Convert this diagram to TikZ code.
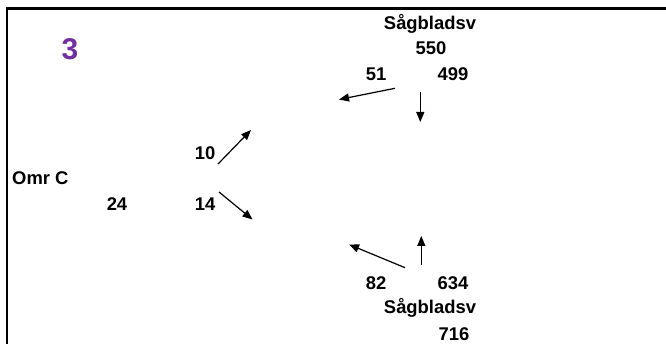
\documentclass[tikz,border=0pt]{standalone}
\usepackage{fontspec}
\setmainfont{Liberation Sans}
\usetikzlibrary{arrows.meta}
\definecolor{numpurple}{RGB}{112,48,160}
\begin{document}
\begin{tikzpicture}[x=1pt,y=-1pt,
  lbl/.style={font=\fontsize{18.4}{22}\selectfont\bfseries, inner sep=0pt, anchor=base},
  flow/.style={line width=1.2pt, -{Triangle[length=10pt,width=8pt]}},
  frame/.style={line width=2.6pt}]
\useasboundingbox (0,0) rectangle (666,344);
\draw[frame] (7,344) -- (7,8.5) -- (667,8.5);
\node[lbl, font=\fontsize{30}{34}\selectfont\bfseries, text=numpurple] (num) at (70,59.5) {3};
\node[lbl] (sagtop) at (430,29.3) {Sågbladsv};
\node[lbl] (n550) at (431,55) {550};
\node[lbl] (n51) at (376,81) {51};
\node[lbl] (n499) at (453,81) {499};
\node[lbl] (n10) at (205,159.3) {10};
\node[lbl, anchor=base west] (omr) at (12,185) {Omr C};
\node[lbl] (n24) at (117,211) {24};
\node[lbl] (n14) at (205,211) {14};
\node[lbl] (n82) at (376,289.3) {82};
\node[lbl] (n634) at (453,289.3) {634};
\node[lbl] (sagbot) at (430,314) {Sågbladsv};
\node[lbl] (n716) at (454,341) {716};
\coordinate (a1s) at (395,88.3);  \coordinate (a1e) at (339,99.5);
\coordinate (a2s) at (420.3,91.7); \coordinate (a2e) at (420.3,122);
\coordinate (a3s) at (218,164);   \coordinate (a3e) at (251,130);
\coordinate (a4s) at (219,192);   \coordinate (a4e) at (252.5,219.5);
\coordinate (a5s) at (405,267.7); \coordinate (a5e) at (349,244.5);
\coordinate (a6s) at (421.3,264.7); \coordinate (a6e) at (421.3,236);
\draw[flow] (a1s) -- (a1e);
\draw[flow] (a2s) -- (a2e);
\draw[flow] (a3s) -- (a3e);
\draw[flow] (a4s) -- (a4e);
\draw[flow] (a5s) -- (a5e);
\draw[flow] (a6s) -- (a6e);
\end{tikzpicture}
\end{document}
